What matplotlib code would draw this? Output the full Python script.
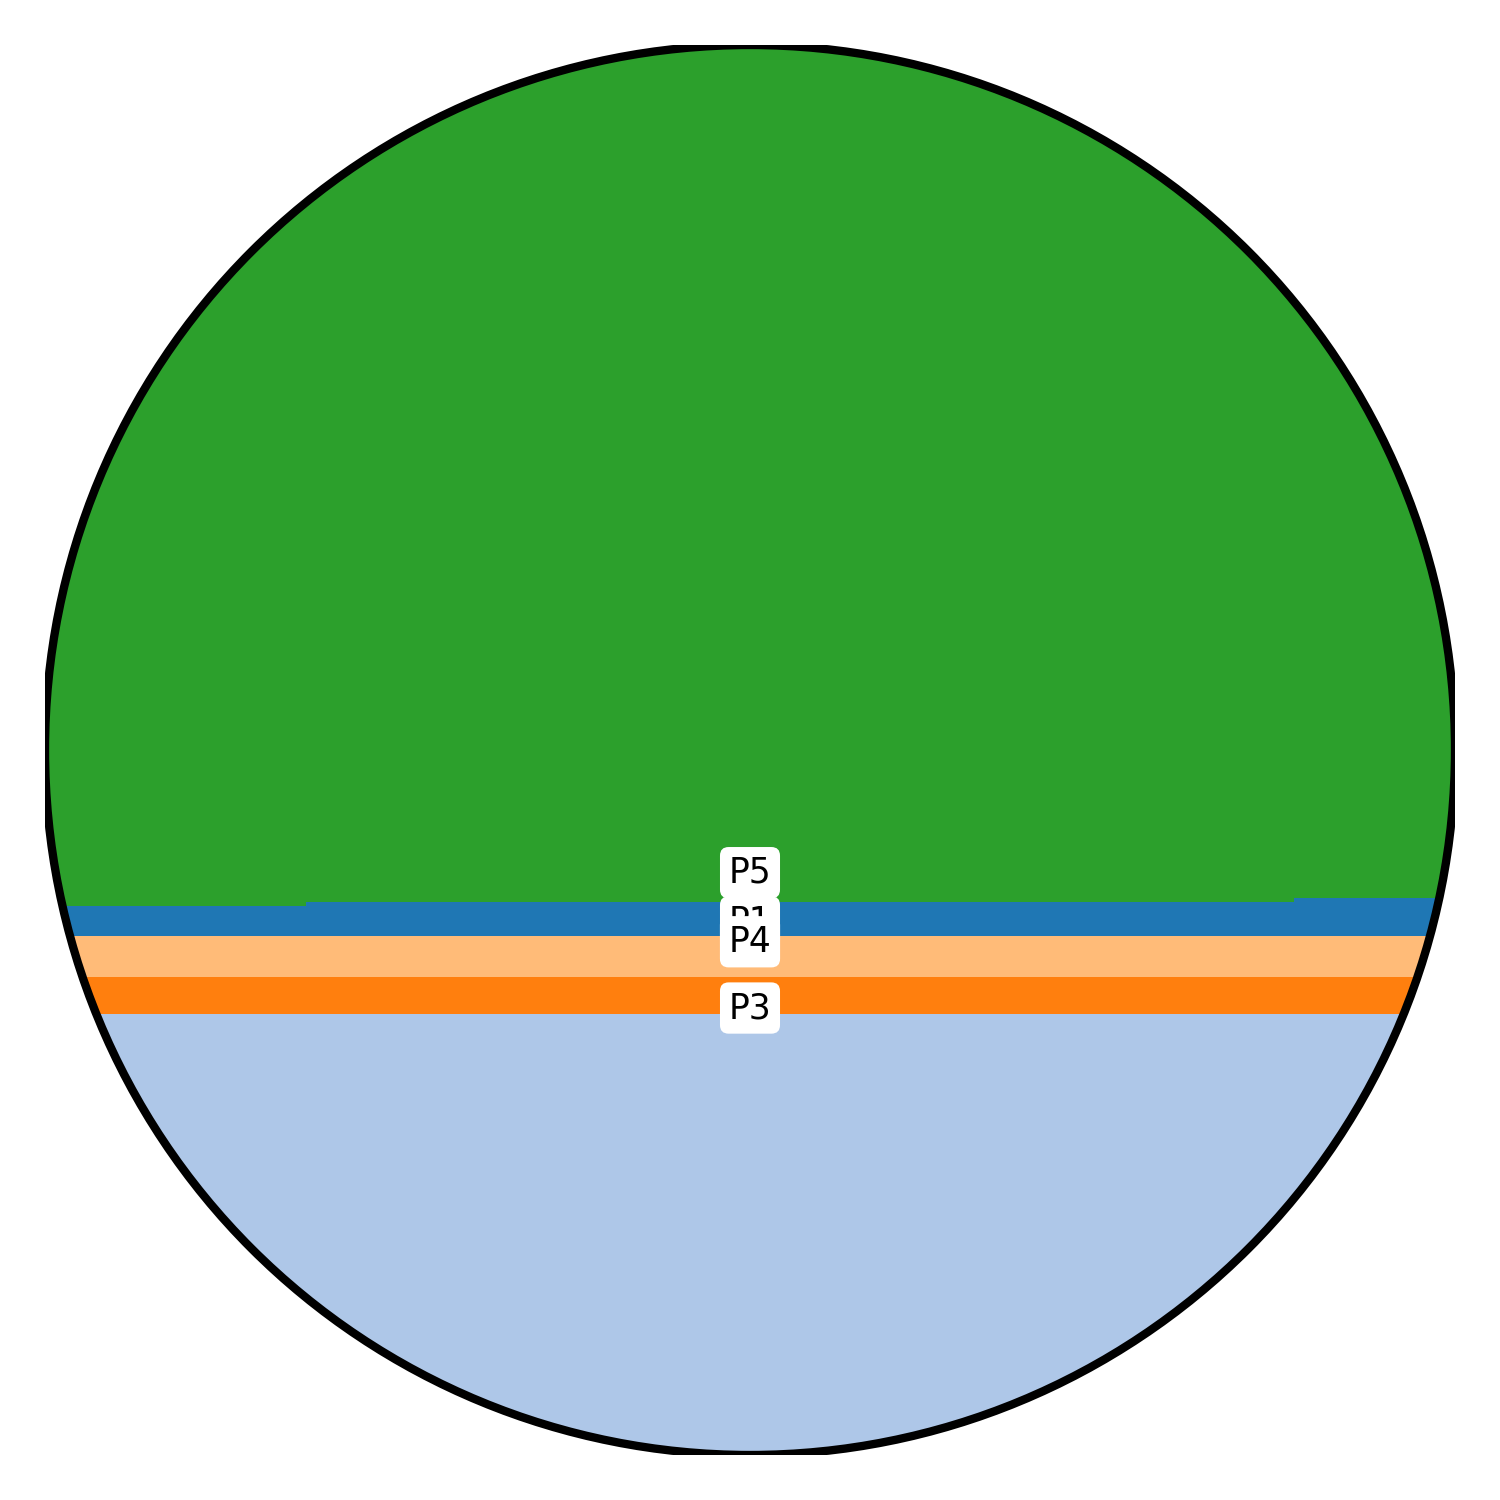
import matplotlib.pyplot as plt
from matplotlib.patches import Circle

# Stacked shares (percent) along x, stepped; order is bottom -> top.
x_steps = [0, 18.5, 88.6, 100]
series_names = ['P2', 'P3', 'P4', 'P1', 'P5']
p2_values = [31.3, 31.3, 31.3, 31.3]
p3_values = [2.6, 2.6, 2.6, 2.6]
p4_values = [2.9, 2.9, 2.9, 2.9]
p1_values = [2.15, 2.4, 2.7, 2.7]
p5_values = [61.05, 60.8, 60.5, 60.5]
series_colors = ['#aec7e8', '#ff7f0e', '#ffbb78', '#1f77b4', '#2ca02c']

# Label anchors (percent height), as placed in the chart.
label_names = ['P5', 'P1', 'P4', 'P3']
label_heights = [41.3, 37.8, 36.4, 31.7]

fig = plt.figure(figsize=(5, 5), dpi=300)
ax = fig.add_axes([0.03, 0.03, 0.94, 0.94])

polys = ax.stackplot(
    x_steps, p2_values, p3_values, p4_values, p1_values, p5_values,
    colors=series_colors, step='post', labels=series_names,
    linewidth=0
)

# Circle to clip the bands and outline the chart.
clip = Circle((50, 50), 50, transform=ax.transData)
for p in polys:
    p.set_clip_path(clip)

ax.add_patch(Circle((50, 50), 50, fill=False, edgecolor='black',
                    linewidth=2.0, zorder=3))

for name, h in zip(label_names, label_heights):
    ax.text(50, h, name, ha='center', va='center', fontsize=8.3, zorder=4,
            bbox=dict(boxstyle='round,pad=0.25', facecolor='white',
                      edgecolor='none'))

ax.set_xlim(0, 100)
ax.set_ylim(0, 100)
ax.set_aspect('equal')
ax.axis('off')

fig.savefig('out.png', dpi=300)
